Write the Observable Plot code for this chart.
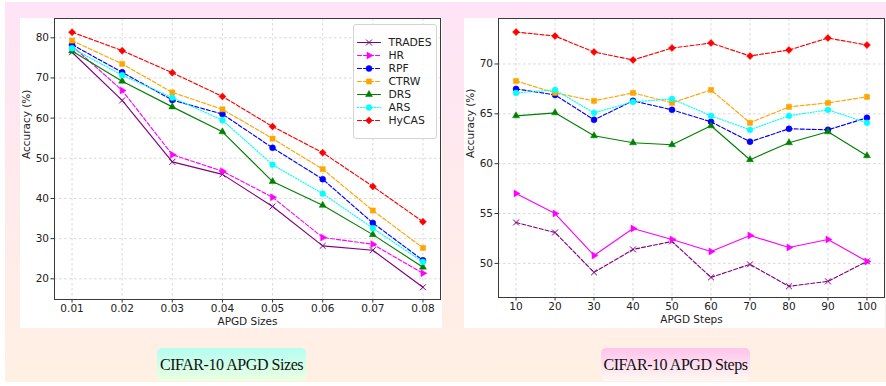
<!DOCTYPE html>
<html>
<head>
<meta charset="utf-8">
<script src="https://cdn.jsdelivr.net/npm/d3@7"></script>
<script src="https://cdn.jsdelivr.net/npm/@observablehq/plot@0.6"></script>
<style>
  html, body { margin: 0; padding: 0; background: #fff; }
  #root { position: relative; width: 886px; height: 386px; overflow: hidden; background: #fff; font-family: "DejaVu Sans", sans-serif; }
  #bg { position: absolute; left: 5px; top: 2px; width: 881px; height: 380px; background: linear-gradient(#fee4f6, #fff0e3); }
  .panel { position: absolute; background: #fff; }
  .chart { position: absolute; }
  .legend { position: absolute; background: rgba(255,255,255,0.85); border: 1px solid #d4d4d4; border-radius: 3px; box-sizing: border-box; }
  .cap { position: absolute; width: 149px; height: 33px; border-radius: 5px; display: flex; align-items: center; justify-content: center;
         font-family: "Liberation Serif", "DejaVu Serif", serif; font-size: 16px; letter-spacing: -0.45px; color: #111; }
</style>
</head>
<body>
<div id="root">
  <div id="bg"></div>
  <div class="panel" style="left:20px;top:18px;width:422px;height:310px;"></div>
  <div class="panel" style="left:464px;top:18px;width:421px;height:310px;"></div>
  <div class="chart" id="left" style="left:20px;top:17px;"></div>
  <div class="chart" id="right" style="left:464px;top:17px;"></div>
  <div class="legend" id="legend" style="left:353px;top:24px;width:84px;height:115px;"></div>
  <div class="cap" style="left:157px;top:348px;background:linear-gradient(#b3fff1,#ecffe0);">CIFAR-10 APGD Sizes</div>
  <div class="cap" style="left:601px;top:348px;background:linear-gradient(#ffc3ec,#fdf9f2);">CIFAR-10 APGD Steps</div>
</div>
<script>
// ---------- data ----------
const seriesNames = ["TRADES", "HR", "RPF", "CTRW", "DRS", "ARS", "HyCAS"];

const apgdSizes = [0.01, 0.02, 0.03, 0.04, 0.05, 0.06, 0.07, 0.08];
const sizesTRADES = [76.4, 64.4, 49.1, 46.0, 38.0, 28.2, 27.1, 17.9];
const sizesHR     = [78.0, 66.9, 50.9, 46.8, 40.3, 30.3, 28.6, 21.4];
const sizesRPF    = [78.3, 71.4, 64.5, 61.0, 52.6, 44.8, 33.9, 24.6];
const sizesCTRW   = [79.3, 73.5, 66.4, 62.2, 54.9, 47.3, 37.0, 27.7];
const sizesDRS    = [76.7, 69.2, 62.8, 56.6, 44.2, 38.3, 31.0, 22.9];
const sizesARS    = [77.4, 70.7, 65.1, 59.5, 48.4, 41.2, 32.6, 24.2];
const sizesHyCAS  = [81.4, 76.8, 71.3, 65.4, 57.9, 51.4, 43.0, 34.2];

const apgdSteps = [10, 20, 30, 40, 50, 60, 70, 80, 90, 100];
const stepsTRADES = [54.1, 53.1, 49.1, 51.4, 52.2, 48.6, 49.9, 47.7, 48.2, 50.2];
const stepsHR     = [57.0, 55.0, 50.8, 53.5, 52.4, 51.2, 52.8, 51.6, 52.4, 50.2];
const stepsRPF    = [67.5, 66.9, 64.4, 66.3, 65.4, 64.2, 62.2, 63.5, 63.4, 64.6];
const stepsCTRW   = [68.3, 67.1, 66.3, 67.1, 66.1, 67.4, 64.1, 65.7, 66.1, 66.7];
const stepsDRS    = [64.8, 65.1, 62.8, 62.1, 61.9, 63.8, 60.4, 62.1, 63.2, 60.8];
const stepsARS    = [67.1, 67.4, 65.1, 66.2, 66.5, 64.8, 63.4, 64.8, 65.4, 64.1];
const stepsHyCAS  = [73.2, 72.8, 71.2, 70.4, 71.6, 72.1, 70.8, 71.4, 72.6, 71.9];

const sizeTicksY = [20, 30, 40, 50, 60, 70, 80];
const stepTicksY = [50, 55, 60, 65, 70];

// ---------- styles ----------
const DASH = "4,2", DOT = "1.2,1.6", SOLID = null;
const style = {
  TRADES: {color: "#800080", symbol: "times",    r: 2.8, rotate: 0,  stroked: true},
  HR:     {color: "#ff00ff", symbol: "triangle", r: 2.6, rotate: 90},
  RPF:    {color: "#0000ff", symbol: "circle",   r: 3.0, rotate: 0},
  CTRW:   {color: "#ffa500", symbol: "square",   r: 2.9, rotate: 0},
  DRS:    {color: "#008000", symbol: "triangle", r: 2.6, rotate: 0},
  ARS:    {color: "#00ffff", symbol: "circle",   r: 2.9, rotate: 0},
  HyCAS:  {color: "#ff0000", symbol: "square",   r: 2.8, rotate: 45}
};
const dashLeft  = {TRADES: SOLID, HR: DASH, RPF: DASH, CTRW: DASH, DRS: SOLID, ARS: DOT, HyCAS: DASH};
const dashRight = {TRADES: DASH, HR: SOLID, RPF: DASH, CTRW: DASH, DRS: SOLID, ARS: DOT, HyCAS: DASH};

function rowsFor(xs, values) {
  return xs.map((x, i) => ({x, y: values[i]}));
}

function seriesMarks(name, rows, dash) {
  const s = style[name];
  return [
    Plot.line(rows, {x: "x", y: "y", stroke: s.color, strokeWidth: 1.15, strokeDasharray: dash}),
    Plot.dot(rows, {x: "x", y: "y", symbol: s.symbol, r: s.r, rotate: s.rotate,
      fill: s.stroked ? "none" : s.color, stroke: s.color, strokeWidth: s.stroked ? 1 : 0.5})
  ];
}

function makeChart({xs, table, dashes, xDomain, yDomain, yTicks, xFormat, xLabel, marginBottom}) {
  return Plot.plot({
    width: 422, height: 311,
    marginLeft: 34, marginRight: 2, marginTop: 1, marginBottom,
    style: {fontFamily: "DejaVu Sans", fontSize: "10.5px", background: "transparent", color: "#222", overflow: "visible"},
    x: {domain: xDomain},
    y: {domain: yDomain},
    marks: [
      Plot.gridX(xs, {stroke: "#c8c8c8", strokeOpacity: 1, strokeWidth: 0.7, strokeDasharray: "2.5,2.5"}),
      Plot.gridY(yTicks, {stroke: "#c8c8c8", strokeOpacity: 1, strokeWidth: 0.7, strokeDasharray: "2.5,2.5"}),
      Plot.axisX(xs, {tickSize: 3.5, tickPadding: 2, tickFormat: xFormat, fontSize: 10.5, label: null, stroke: "#333"}),
      Plot.axisY(yTicks, {tickSize: 3.5, tickPadding: 2, fontSize: 10.5, label: null, stroke: "#333"}),
      ...seriesNames.flatMap(n => seriesMarks(n, rowsFor(xs, table[n]), dashes[n])),
      Plot.frame({stroke: "#3a3a3a", strokeWidth: 1}),
      Plot.text([xLabel], {frameAnchor: "bottom", dy: 25, text: d => d, fontSize: 10.5, fill: "#222"}),
      Plot.text(["Accuracy (%)"], {frameAnchor: "left", dx: -28, rotate: -90, text: d => d, fontSize: 10.5, fill: "#222"})
    ]
  });
}

const leftTable = {TRADES: sizesTRADES, HR: sizesHR, RPF: sizesRPF, CTRW: sizesCTRW, DRS: sizesDRS, ARS: sizesARS, HyCAS: sizesHyCAS};
const rightTable = {TRADES: stepsTRADES, HR: stepsHR, RPF: stepsRPF, CTRW: stepsCTRW, DRS: stepsDRS, ARS: stepsARS, HyCAS: stepsHyCAS};

document.getElementById("left").append(makeChart({
  xs: apgdSizes, table: leftTable, dashes: dashLeft,
  xDomain: [0.0065, 0.0835], yDomain: [14.85, 84.8], yTicks: sizeTicksY,
  xFormat: d => d.toFixed(2), xLabel: "APGD Sizes", marginBottom: 29
}));

document.getElementById("right").append(makeChart({
  xs: apgdSteps, table: rightTable, dashes: dashRight,
  xDomain: [5.5, 104.5], yDomain: [46.58, 74.56], yTicks: stepTicksY,
  xFormat: d => String(d), xLabel: "APGD Steps", marginBottom: 31
}));

// ---------- legend ----------
const legendMarks = seriesNames.flatMap(n => {
  const s = style[n];
  const seg = [{x: 3, y: n}, {x: 26, y: n}];
  return [
    Plot.line(seg, {x: "x", y: "y", stroke: s.color, strokeWidth: 1.15, strokeDasharray: dashLeft[n]}),
    Plot.dot([{x: 14.5, y: n}], {x: "x", y: "y", symbol: s.symbol, r: s.r, rotate: s.rotate,
      fill: s.stroked ? "none" : s.color, stroke: s.color, strokeWidth: s.stroked ? 1 : 0.5})
  ];
});
document.getElementById("legend").append(Plot.plot({
  width: 82, height: 113, margin: 0,
  style: {fontFamily: "DejaVu Sans", fontSize: "10.5px", background: "transparent", color: "#222", overflow: "visible"},
  x: {domain: [0, 82], range: [0, 82], axis: null},
  y: {type: "point", domain: seriesNames, range: [8.5, 103], axis: null},
  marks: [
    ...legendMarks,
    Plot.text(seriesNames, {x: 34, y: d => d, text: d => d, textAnchor: "start", fontSize: 10.8, fill: "#222"})
  ]
}));
</script>
</body>
</html>
